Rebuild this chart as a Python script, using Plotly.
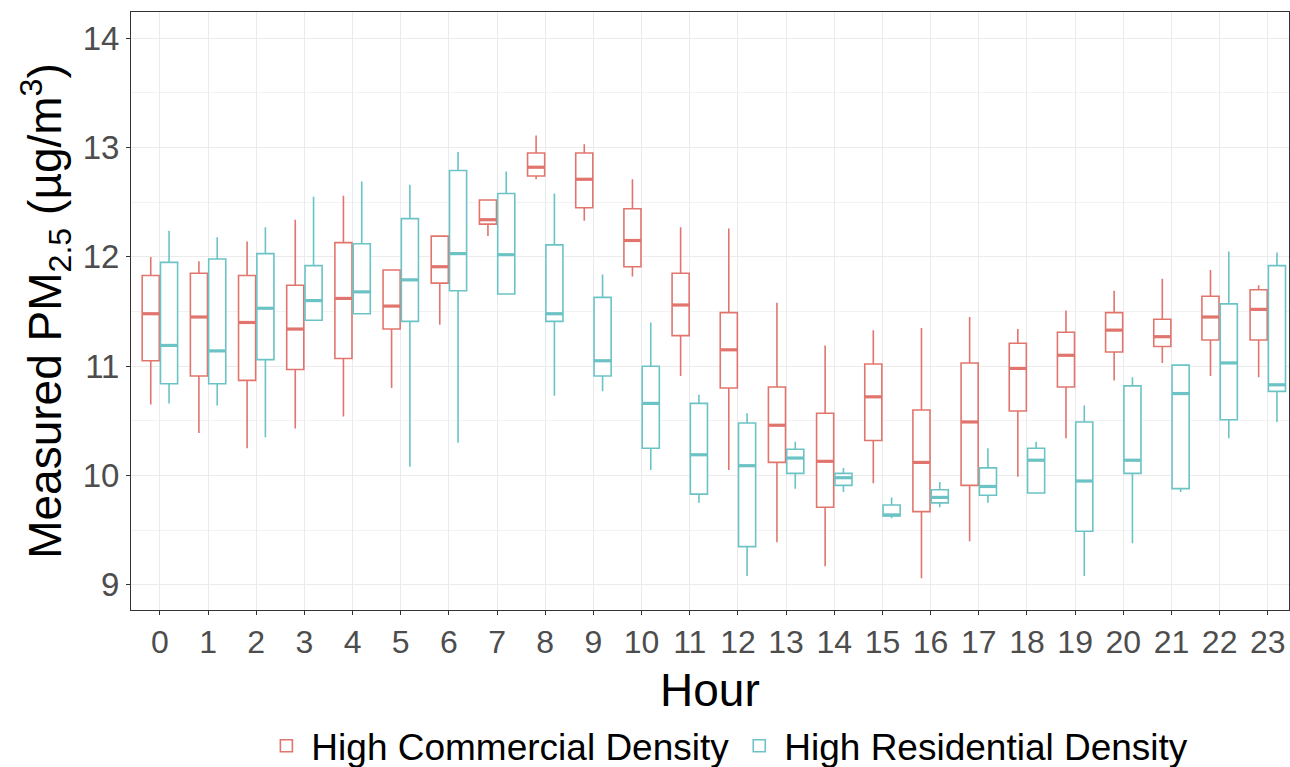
import plotly.graph_objects as go

hours = list(range(24))
hour_labels = [str(h) for h in hours]

# High Commercial Density
com_low = [10.65, 10.39, 10.25, 10.43, 10.54, 10.80, 11.38, 12.19, 12.71, 12.33, 11.82, 10.91,
           10.05, 9.39, 9.17, 9.93, 9.06, 9.40, 9.99, 10.34, 10.87, 11.03, 10.91, 10.90]
com_q1 = [11.05, 10.91, 10.87, 10.97, 11.07, 11.34, 11.76, 12.30, 12.74, 12.45, 11.91, 11.28,
          10.80, 10.12, 9.71, 10.32, 9.67, 9.91, 10.59, 10.81, 11.13, 11.18, 11.24, 11.24]
com_med = [11.48, 11.45, 11.40, 11.34, 11.62, 11.55, 11.91, 12.34, 12.82, 12.71, 12.15, 11.56,
           11.15, 10.46, 10.13, 10.72, 10.12, 10.49, 10.98, 11.10, 11.33, 11.27, 11.45, 11.52]
com_q3 = [11.83, 11.85, 11.83, 11.74, 12.13, 11.88, 12.19, 12.52, 12.95, 12.95, 12.44, 11.85,
          11.49, 10.81, 10.57, 11.02, 10.60, 11.03, 11.21, 11.31, 11.49, 11.43, 11.64, 11.70]
com_high = [12.00, 11.96, 12.14, 12.34, 12.56, 11.88, 12.19, 12.52, 13.11, 13.03, 12.71, 12.27,
            12.26, 11.58, 11.19, 11.33, 11.35, 11.45, 11.34, 11.51, 11.69, 11.80, 11.88, 11.74]

# High Residential Density
res_low = [10.66, 10.64, 10.35, 11.42, 11.48, 10.08, 10.30, 11.66, 10.73, 10.77, 10.05, 9.75,
           9.08, 9.88, 9.85, 9.61, 9.71, 9.75, 9.84, 9.08, 9.38, 9.85, 10.34, 10.49]
res_q1 = [10.84, 10.84, 11.06, 11.42, 11.48, 11.41, 11.69, 11.66, 11.41, 10.91, 10.25, 9.83,
          9.35, 10.02, 9.91, 9.63, 9.75, 9.82, 9.84, 9.49, 10.02, 9.88, 10.51, 10.77]
res_med = [11.19, 11.14, 11.53, 11.60, 11.68, 11.79, 12.03, 12.02, 11.48, 11.05, 10.66, 10.19,
           10.09, 10.16, 9.98, 9.64, 9.80, 9.90, 10.14, 9.95, 10.14, 10.75, 11.03, 10.83]
res_q3 = [11.95, 11.98, 12.03, 11.92, 12.12, 12.35, 12.79, 12.58, 12.11, 11.63, 11.00, 10.66,
          10.48, 10.24, 10.02, 9.73, 9.87, 10.07, 10.25, 10.49, 10.82, 11.01, 11.57, 11.92]
res_high = [12.24, 12.18, 12.27, 12.55, 12.69, 12.66, 12.96, 12.78, 12.58, 11.84, 11.40, 10.74,
            10.57, 10.31, 10.07, 9.80, 9.94, 10.25, 10.31, 10.64, 10.90, 11.01, 12.05, 12.04]

series = [
    ("High Commercial Density", "#E1756D", -0.19, com_low, com_q1, com_med, com_q3, com_high),
    ("High Residential Density", "#6BC3C6", 0.19, res_low, res_q1, res_med, res_q3, res_high),
]

BOXW = 0.355
fig = go.Figure()
for name, color, off, lo, q1, med, q3, hi in series:
    xs = [h + off for h in hours]
    fig.add_trace(go.Box(
        name=name, x=xs, q1=q1, median=med, q3=q3, lowerfence=lo, upperfence=hi,
        width=BOXW, fillcolor="white", line=dict(color=color, width=1.6),
        whiskerwidth=0, boxpoints=False, legendgroup=name, showlegend=True,
    ))
    mx, my = [], []
    for x, m in zip(xs, med):
        mx += [x - BOXW / 2, x + BOXW / 2, None]
        my += [m, m, None]
    fig.add_trace(go.Scatter(
        x=mx, y=my, mode="lines", line=dict(color=color, width=3.2),
        legendgroup=name, showlegend=False, hoverinfo="skip",
    ))

fig.update_layout(
    width=1290, height=767,
    margin=dict(l=131, r=1, t=12, b=157, autoexpand=False),
    paper_bgcolor="white", plot_bgcolor="white",
    font=dict(family="Liberation Sans, Arial, sans-serif", color="black"),
    showlegend=True,
    legend=dict(orientation="h", x=0.515, xanchor="center", y=-0.176, yanchor="top",
                font=dict(size=37, color="black"), itemwidth=40, traceorder="normal"),
    annotations=[dict(text="Hour", xref="paper", yref="paper", x=0.5, y=-0.133,
                      xanchor="center", yanchor="middle", showarrow=False,
                      font=dict(size=46, color="black"))],
)
fig.update_xaxes(
    automargin=False,
    range=[-0.6, 23.44], tickmode="array", tickvals=hours, ticktext=hour_labels,
    showgrid=True, gridcolor="#EBEBEB", gridwidth=1.2, zeroline=False,
    showline=True, linecolor="#333333", linewidth=1, mirror=True,
    ticks="outside", ticklen=4, tickcolor="#333333", tickwidth=1,
    tickfont=dict(size=32, color="#4D4D4D"),
)
fig.update_yaxes(
    automargin=False,
    range=[8.77, 14.24], tickmode="array", tickvals=[9, 10, 11, 12, 13, 14],
    showgrid=True, gridcolor="#EBEBEB", gridwidth=1.2, zeroline=False,
    minor=dict(tickmode="array", tickvals=[9.5, 10.5, 11.5, 12.5, 13.5], showgrid=True,
               gridcolor="#F2F2F2", gridwidth=0.8, ticks=""),
    showline=True, linecolor="#333333", linewidth=1, mirror=True,
    ticks="outside", ticklen=4, tickcolor="#333333", tickwidth=1,
    tickfont=dict(size=33, color="#4D4D4D"),
    title=dict(text="Measured PM<sub>2.5</sub> (µg/m<sup>3</sup>)", font=dict(size=46, color="black"), standoff=6),
)

fig.write_html(
    "out.html",
    config={"displayModeBar": False},
    post_script="document.body.style.margin='0';document.body.style.overflow='hidden';",
)
